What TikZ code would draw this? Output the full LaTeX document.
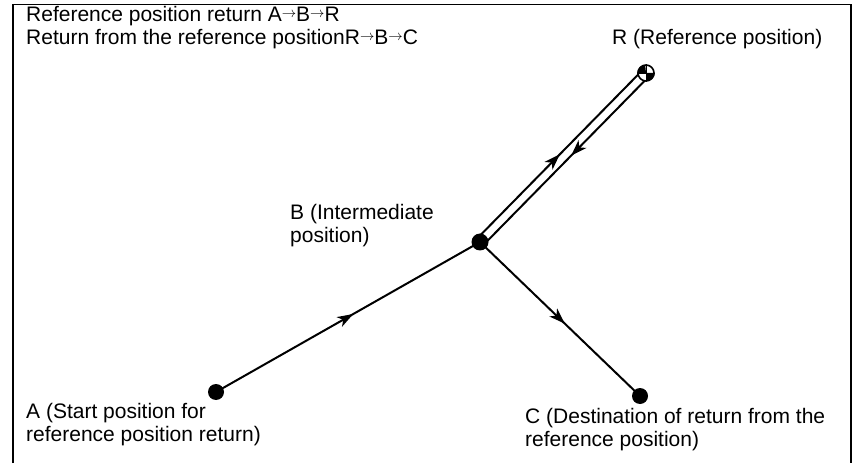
\documentclass[tikz,border=0pt]{standalone}
\usepackage{fontspec}
\setmainfont{Liberation Sans}
\usepackage{tikz}
\usetikzlibrary{arrows.meta,calc,decorations.markings}
\newcommand{\pathto}{\raisebox{3.8pt}{\fontsize{14}{14}\selectfont$\rightarrow$}}
\tikzset{
  posdot/.style={circle, fill=black, inner sep=0pt, minimum size=16pt},
  refmark/.style={circle, draw=black, fill=white, line width=1.6pt, inner sep=0pt, minimum size=16pt},
  pathline/.style={line width=2pt, draw=black},
  framebox/.style={line width=1.6pt, draw=black},
  labeltext/.style={anchor=north west, inner sep=0pt, align=left, font=\fontsize{21}{23}\selectfont},
  midarrow/.style={postaction={decorate}, decoration={markings, mark=at position #1 with {\arrow{Stealth[length=16pt,width=11pt,inset=4.5pt]}}}}
}

\begin{document}
\begin{tikzpicture}[x=1pt, y=1pt]
  \useasboundingbox (0,0) rectangle (853,463);
  % open frame
  \draw[framebox] (13,0) -- (13,458.5) -- (851,458.5) -- (851,0);
  % positions
  \coordinate (A) at (216,71);
  \coordinate (B) at (480,221);
  \coordinate (R) at (646,390);
  \coordinate (C) at (640,67);
  % paths
  \draw[pathline, midarrow=0.52] (A) -- (B);
  \draw[pathline, midarrow=0.53] (B) -- (C);
  \draw[pathline, midarrow=0.5] ($(B)!4.5pt!90:(R)$) -- ($(R)!4.5pt!-90:(B)$);
  \draw[pathline, midarrow=0.47] ($(R)!4.5pt!90:(B)$) -- ($(B)!4.5pt!-90:(R)$);
  % marks
  \node[posdot] (dotA) at (A) {};
  \node[posdot, minimum size=17pt] (dotB) at (B) {};
  \node[posdot] (dotC) at (C) {};
  \node[refmark] (markR) at (R) {};
  \fill (markR.center) -- (markR.west) arc[start angle=180, end angle=90, radius=8pt] -- cycle;
  \fill (markR.center) -- (markR.east) arc[start angle=0, end angle=-90, radius=8pt] -- cycle;
  \draw[line width=0.9pt] (markR.west) -- (markR.east) (markR.north) -- (markR.south);
  % labels
  \node[labeltext] (title) at (26,457) {Reference position return A\pathto B\pathto R\\Return from the reference positionR\pathto B\pathto C};
  \node[labeltext] (labelR) at (612,434) {R (Reference position)};
  \node[labeltext] (labelB) at (290,259) {B (Intermediate\\position)};
  \node[labeltext] (labelA) at (26,60) {A (Start position for\\reference position return)};
  \node[labeltext] (labelC) at (525,55) {C (Destination of return from the\\reference position)};
\end{tikzpicture}
\end{document}
